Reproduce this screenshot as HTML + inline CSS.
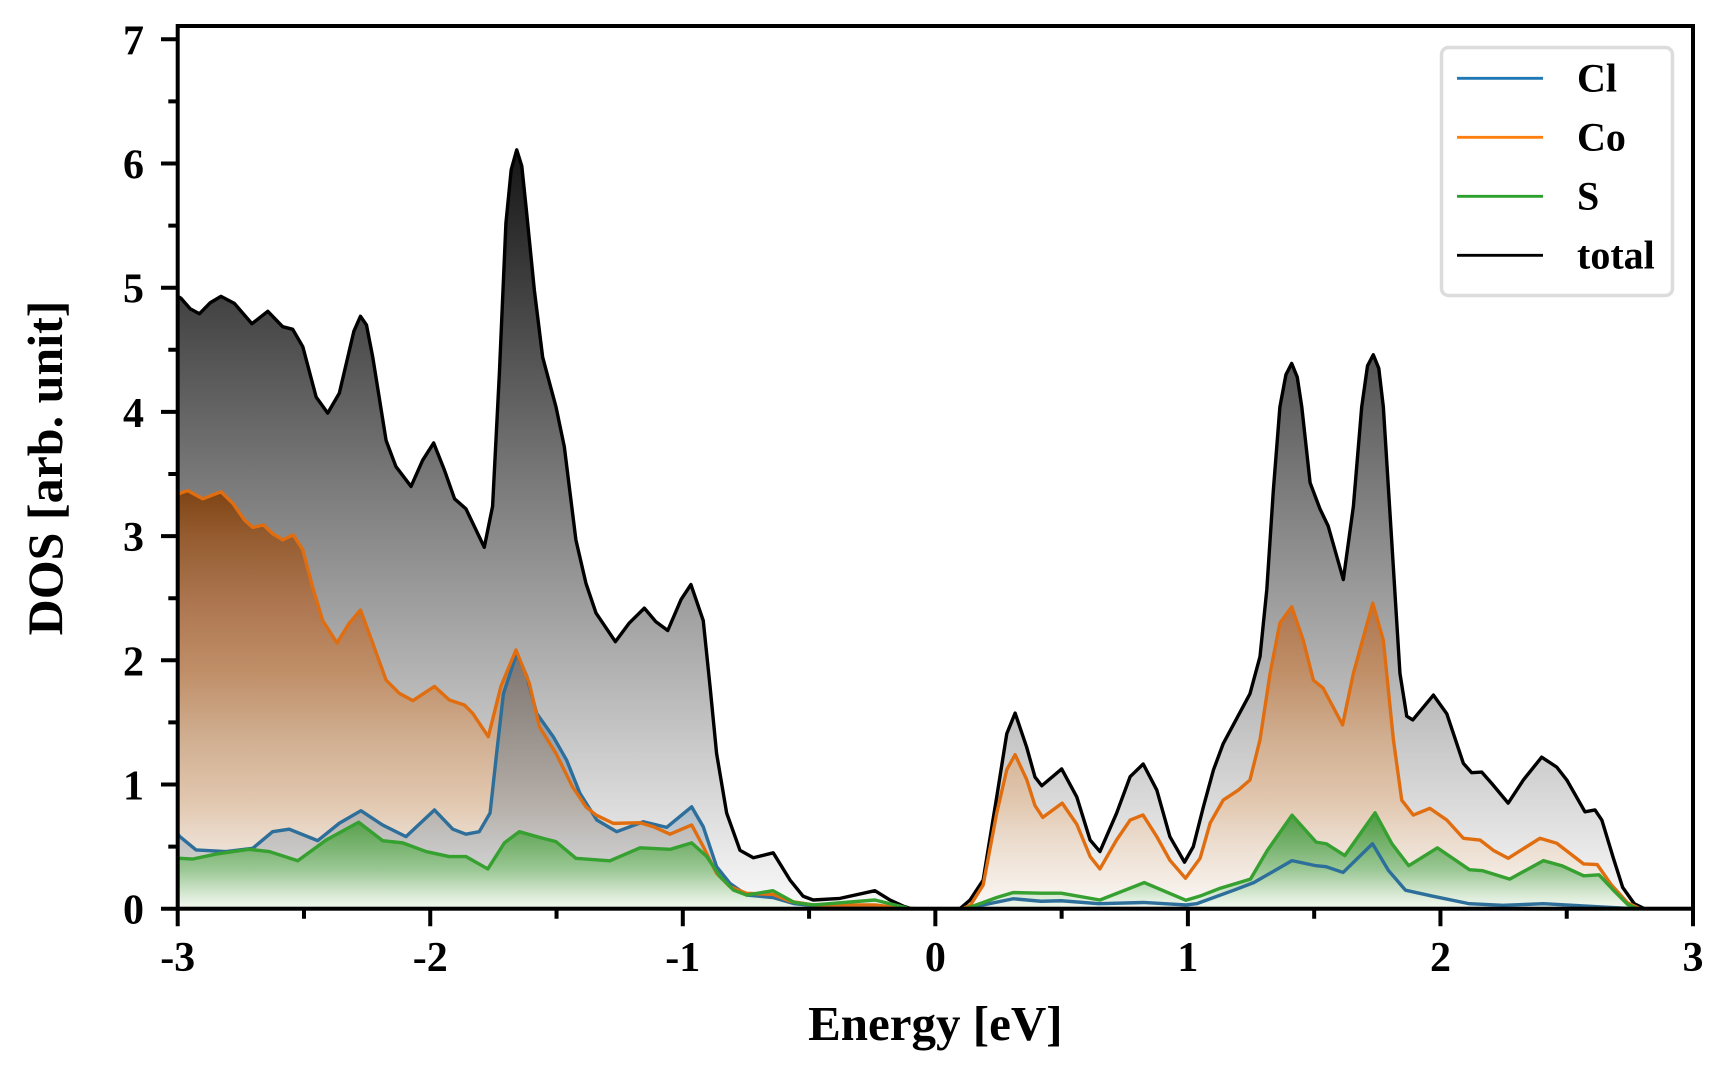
<!DOCTYPE html>
<html>
<head>
<meta charset="utf-8">
<style>
html,body{margin:0;padding:0;background:#ffffff;}
svg{display:block;}
</style>
</head>
<body>
<svg width="1728" height="1080" viewBox="0 0 1728 1080" xmlns="http://www.w3.org/2000/svg" font-family="'Liberation Serif', 'Times New Roman', serif" font-weight="bold">
<defs>
  <clipPath id="ax"><rect x="177.7" y="26" width="1515.3" height="882.7"/></clipPath>
  <linearGradient id="gT" gradientUnits="userSpaceOnUse" x1="0" y1="6.12" x2="0" y2="0">
    <stop offset="0" stop-color="#151515"/>
    <stop offset="1" stop-color="#fafafa"/>
  </linearGradient>
  <linearGradient id="gCo" gradientUnits="userSpaceOnUse" x1="0" y1="3.36" x2="0" y2="0">
    <stop offset="0" stop-color="#7e4414"/>
    <stop offset="0.107" stop-color="#955c30"/>
    <stop offset="0.268" stop-color="#ad7650"/>
    <stop offset="0.429" stop-color="#bf8e67"/>
    <stop offset="0.589" stop-color="#d0ae90"/>
    <stop offset="0.747" stop-color="#e2c8b0"/>
    <stop offset="0.827" stop-color="#eadacb"/>
    <stop offset="1" stop-color="#fbf8f5"/>
  </linearGradient>
  <linearGradient id="gCl" gradientUnits="userSpaceOnUse" x1="0" y1="2.06" x2="0" y2="0">
    <stop offset="0" stop-color="#235a8c" stop-opacity="0.40"/>
    <stop offset="1" stop-color="#235a8c" stop-opacity="0.12"/>
  </linearGradient>
  <linearGradient id="gS" gradientUnits="userSpaceOnUse" x1="0" y1="0.78" x2="0" y2="0">
    <stop offset="0" stop-color="#4d9844"/>
    <stop offset="0.192" stop-color="#64a85a"/>
    <stop offset="0.423" stop-color="#82b97a"/>
    <stop offset="0.603" stop-color="#9cc896"/>
    <stop offset="0.872" stop-color="#dcebd8"/>
    <stop offset="1" stop-color="#f4f9f3"/>
  </linearGradient>
</defs>

<g clip-path="url(#ax)">
<g transform="matrix(251.7 0 0 -124.2 932.8 908.7)">
  <path fill="url(#gT)" stroke="none" d="M-3,0 L-3,4.93 -2.987,4.915 -2.95,4.83 -2.914,4.79 -2.87,4.88 -2.828,4.93 -2.775,4.874 -2.705,4.71 -2.642,4.81 -2.583,4.686 -2.543,4.665 -2.503,4.525 -2.45,4.12 -2.404,3.99 -2.358,4.15 -2.3,4.65 -2.274,4.77 -2.25,4.7 -2.225,4.44 -2.172,3.77 -2.133,3.56 -2.073,3.4 -2.027,3.61 -1.983,3.75 -1.94,3.53 -1.9,3.3 -1.855,3.22 -1.822,3.08 -1.782,2.91 -1.749,3.24 -1.722,4.31 -1.696,5.52 -1.675,5.95 -1.653,6.11 -1.633,5.98 -1.616,5.65 -1.583,4.98 -1.55,4.44 -1.497,4.04 -1.464,3.72 -1.418,2.97 -1.378,2.62 -1.338,2.38 -1.261,2.15 -1.206,2.3 -1.146,2.42 -1.1,2.31 -1.053,2.24 -1,2.49 -0.961,2.61 -0.912,2.32 -0.885,1.79 -0.859,1.25 -0.819,0.77 -0.766,0.47 -0.713,0.41 -0.634,0.45 -0.567,0.23 -0.515,0.1 -0.475,0.07 -0.369,0.083 -0.23,0.145 -0.17,0.07 -0.117,0.02 -0.084,0 0.108,0 0.148,0.07 0.2,0.23 0.254,0.9 0.294,1.41 0.327,1.575 0.373,1.3 0.406,1.06 0.433,0.99 0.512,1.125 0.572,0.9 0.625,0.553 0.664,0.46 0.73,0.768 0.784,1.063 0.836,1.165 0.89,0.955 0.942,0.58 1,0.375 1.035,0.5 1.075,0.82 1.115,1.117 1.154,1.33 1.207,1.53 1.26,1.73 1.3,2.03 1.327,2.57 1.353,3.37 1.379,4.04 1.403,4.3 1.426,4.39 1.448,4.28 1.466,4.04 1.499,3.43 1.538,3.22 1.571,3.08 1.631,2.65 1.671,3.24 1.704,4.04 1.727,4.37 1.75,4.46 1.772,4.35 1.79,4.04 1.823,2.97 1.856,1.895 1.883,1.55 1.907,1.52 1.989,1.72 2.042,1.57 2.108,1.17 2.141,1.095 2.181,1.1 2.22,1.01 2.286,0.85 2.346,1.036 2.419,1.22 2.479,1.14 2.519,1.036 2.591,0.78 2.631,0.795 2.658,0.714 2.704,0.406 2.741,0.171 2.787,0.04 2.827,0 3.05,0 Z"/>
  <path fill="url(#gCo)" stroke="none" d="M-3,0 L-3,3.33 -2.991,3.345 -2.96,3.366 -2.9,3.3 -2.828,3.357 -2.781,3.264 -2.735,3.13 -2.702,3.07 -2.66,3.09 -2.623,3.02 -2.583,2.97 -2.541,3.01 -2.503,2.89 -2.464,2.59 -2.424,2.32 -2.367,2.14 -2.318,2.3 -2.274,2.405 -2.225,2.137 -2.172,1.84 -2.12,1.735 -2.066,1.675 -1.98,1.79 -1.921,1.68 -1.861,1.64 -1.828,1.573 -1.766,1.385 -1.716,1.79 -1.656,2.083 -1.603,1.815 -1.563,1.465 -1.497,1.25 -1.431,0.98 -1.378,0.82 -1.338,0.754 -1.269,0.687 -1.163,0.692 -1.11,0.66 -1.044,0.6 -0.958,0.674 -0.912,0.5 -0.859,0.285 -0.806,0.177 -0.74,0.124 -0.634,0.115 -0.567,0.06 -0.475,0.03 -0.23,0.03 -0.1,0 0.12,0 0.15,0.03 0.2,0.19 0.254,0.77 0.294,1.12 0.327,1.24 0.373,1.04 0.406,0.83 0.437,0.735 0.514,0.85 0.572,0.68 0.625,0.42 0.664,0.32 0.73,0.553 0.784,0.714 0.835,0.755 0.89,0.58 0.942,0.39 1.004,0.245 1.062,0.406 1.102,0.69 1.154,0.875 1.214,0.955 1.26,1.036 1.3,1.36 1.34,1.895 1.379,2.3 1.426,2.43 1.472,2.16 1.512,1.84 1.551,1.775 1.628,1.48 1.671,1.895 1.748,2.46 1.79,2.16 1.83,1.36 1.863,0.875 1.909,0.754 1.975,0.808 2.042,0.714 2.108,0.567 2.174,0.553 2.227,0.47 2.286,0.406 2.412,0.567 2.479,0.527 2.586,0.36 2.64,0.355 2.694,0.197 2.76,0.048 2.81,0 3.05,0 Z"/>
  <path fill="url(#gCl)" stroke="none" d="M-3,0 L-3,0.6 -2.991,0.58 -2.927,0.473 -2.808,0.46 -2.702,0.486 -2.623,0.62 -2.557,0.64 -2.444,0.548 -2.358,0.688 -2.272,0.789 -2.186,0.674 -2.093,0.58 -1.98,0.795 -1.907,0.64 -1.855,0.6 -1.802,0.62 -1.759,0.77 -1.733,1.25 -1.706,1.73 -1.653,2.056 -1.613,1.87 -1.574,1.573 -1.508,1.385 -1.455,1.197 -1.402,0.929 -1.335,0.714 -1.256,0.62 -1.15,0.7 -1.057,0.655 -0.958,0.82 -0.912,0.66 -0.859,0.338 -0.806,0.204 -0.74,0.11 -0.635,0.09 -0.55,0.04 -0.45,0.02 -0.25,0.015 -0.1,0 0.12,0 0.2,0.03 0.32,0.08 0.43,0.06 0.51,0.064 0.66,0.04 0.836,0.05 1.006,0.03 1.048,0.04 1.196,0.149 1.276,0.211 1.427,0.387 1.523,0.346 1.563,0.338 1.63,0.292 1.747,0.523 1.811,0.306 1.878,0.149 1.984,0.102 2.132,0.04 2.265,0.027 2.426,0.04 2.667,0.013 2.785,0 3.05,0 Z"/>
  <path fill="url(#gS)" stroke="none" d="M-3,0 L-3,0.405 -2.991,0.406 -2.94,0.4 -2.848,0.44 -2.716,0.478 -2.636,0.46 -2.523,0.386 -2.41,0.553 -2.281,0.696 -2.186,0.548 -2.106,0.53 -2.013,0.46 -1.921,0.42 -1.855,0.42 -1.768,0.32 -1.702,0.53 -1.643,0.62 -1.55,0.567 -1.497,0.54 -1.418,0.406 -1.378,0.4 -1.283,0.386 -1.163,0.49 -1.044,0.478 -0.958,0.53 -0.898,0.42 -0.845,0.258 -0.792,0.15 -0.74,0.11 -0.635,0.145 -0.55,0.05 -0.475,0.03 -0.23,0.07 -0.1,0.005 -0.07,0 0.13,0 0.2,0.05 0.254,0.09 0.32,0.13 0.43,0.125 0.51,0.125 0.664,0.07 0.84,0.21 1.006,0.068 1.062,0.102 1.142,0.165 1.262,0.238 1.329,0.469 1.427,0.753 1.523,0.536 1.563,0.523 1.637,0.428 1.757,0.772 1.824,0.523 1.891,0.346 2.005,0.49 2.132,0.314 2.185,0.306 2.292,0.238 2.426,0.387 2.499,0.346 2.586,0.265 2.647,0.273 2.707,0.143 2.76,0.035 2.8,0 3.05,0 Z"/>

  <g fill="none" stroke-width="3.4" stroke-linejoin="round" stroke-linecap="round">
  <path vector-effect="non-scaling-stroke" stroke="#000000" d="M-3,4.93 L-2.987,4.915 -2.95,4.83 -2.914,4.79 -2.87,4.88 -2.828,4.93 -2.775,4.874 -2.705,4.71 -2.642,4.81 -2.583,4.686 -2.543,4.665 -2.503,4.525 -2.45,4.12 -2.404,3.99 -2.358,4.15 -2.3,4.65 -2.274,4.77 -2.25,4.7 -2.225,4.44 -2.172,3.77 -2.133,3.56 -2.073,3.4 -2.027,3.61 -1.983,3.75 -1.94,3.53 -1.9,3.3 -1.855,3.22 -1.822,3.08 -1.782,2.91 -1.749,3.24 -1.722,4.31 -1.696,5.52 -1.675,5.95 -1.653,6.11 -1.633,5.98 -1.616,5.65 -1.583,4.98 -1.55,4.44 -1.497,4.04 -1.464,3.72 -1.418,2.97 -1.378,2.62 -1.338,2.38 -1.261,2.15 -1.206,2.3 -1.146,2.42 -1.1,2.31 -1.053,2.24 -1,2.49 -0.961,2.61 -0.912,2.32 -0.885,1.79 -0.859,1.25 -0.819,0.77 -0.766,0.47 -0.713,0.41 -0.634,0.45 -0.567,0.23 -0.515,0.1 -0.475,0.07 -0.369,0.083 -0.23,0.145 -0.17,0.07 -0.117,0.02 -0.084,0 0.108,0 0.148,0.07 0.2,0.23 0.254,0.9 0.294,1.41 0.327,1.575 0.373,1.3 0.406,1.06 0.433,0.99 0.512,1.125 0.572,0.9 0.625,0.553 0.664,0.46 0.73,0.768 0.784,1.063 0.836,1.165 0.89,0.955 0.942,0.58 1,0.375 1.035,0.5 1.075,0.82 1.115,1.117 1.154,1.33 1.207,1.53 1.26,1.73 1.3,2.03 1.327,2.57 1.353,3.37 1.379,4.04 1.403,4.3 1.426,4.39 1.448,4.28 1.466,4.04 1.499,3.43 1.538,3.22 1.571,3.08 1.631,2.65 1.671,3.24 1.704,4.04 1.727,4.37 1.75,4.46 1.772,4.35 1.79,4.04 1.823,2.97 1.856,1.895 1.883,1.55 1.907,1.52 1.989,1.72 2.042,1.57 2.108,1.17 2.141,1.095 2.181,1.1 2.22,1.01 2.286,0.85 2.346,1.036 2.419,1.22 2.479,1.14 2.519,1.036 2.591,0.78 2.631,0.795 2.658,0.714 2.704,0.406 2.741,0.171 2.787,0.04 2.827,0 3.05,0"/>
  <path vector-effect="non-scaling-stroke" stroke="#2d6f9a" d="M-3,0.6 L-2.991,0.58 -2.927,0.473 -2.808,0.46 -2.702,0.486 -2.623,0.62 -2.557,0.64 -2.444,0.548 -2.358,0.688 -2.272,0.789 -2.186,0.674 -2.093,0.58 -1.98,0.795 -1.907,0.64 -1.855,0.6 -1.802,0.62 -1.759,0.77 -1.733,1.25 -1.706,1.73 -1.653,2.056 -1.613,1.87 -1.574,1.573 -1.508,1.385 -1.455,1.197 -1.402,0.929 -1.335,0.714 -1.256,0.62 -1.15,0.7 -1.057,0.655 -0.958,0.82 -0.912,0.66 -0.859,0.338 -0.806,0.204 -0.74,0.11 -0.635,0.09 -0.55,0.04 -0.45,0.02 -0.25,0.015 -0.1,0 0.12,0 0.2,0.03 0.32,0.08 0.43,0.06 0.51,0.064 0.66,0.04 0.836,0.05 1.006,0.03 1.048,0.04 1.196,0.149 1.276,0.211 1.427,0.387 1.523,0.346 1.563,0.338 1.63,0.292 1.747,0.523 1.811,0.306 1.878,0.149 1.984,0.102 2.132,0.04 2.265,0.027 2.426,0.04 2.667,0.013 2.785,0 3.05,0"/>
  <path vector-effect="non-scaling-stroke" stroke="#e06e10" d="M-3,3.33 L-2.991,3.345 -2.96,3.366 -2.9,3.3 -2.828,3.357 -2.781,3.264 -2.735,3.13 -2.702,3.07 -2.66,3.09 -2.623,3.02 -2.583,2.97 -2.541,3.01 -2.503,2.89 -2.464,2.59 -2.424,2.32 -2.367,2.14 -2.318,2.3 -2.274,2.405 -2.225,2.137 -2.172,1.84 -2.12,1.735 -2.066,1.675 -1.98,1.79 -1.921,1.68 -1.861,1.64 -1.828,1.573 -1.766,1.385 -1.716,1.79 -1.656,2.083 -1.603,1.815 -1.563,1.465 -1.497,1.25 -1.431,0.98 -1.378,0.82 -1.338,0.754 -1.269,0.687 -1.163,0.692 -1.11,0.66 -1.044,0.6 -0.958,0.674 -0.912,0.5 -0.859,0.285 -0.806,0.177 -0.74,0.124 -0.634,0.115 -0.567,0.06 -0.475,0.03 -0.23,0.03 -0.1,0 0.12,0 0.15,0.03 0.2,0.19 0.254,0.77 0.294,1.12 0.327,1.24 0.373,1.04 0.406,0.83 0.437,0.735 0.514,0.85 0.572,0.68 0.625,0.42 0.664,0.32 0.73,0.553 0.784,0.714 0.835,0.755 0.89,0.58 0.942,0.39 1.004,0.245 1.062,0.406 1.102,0.69 1.154,0.875 1.214,0.955 1.26,1.036 1.3,1.36 1.34,1.895 1.379,2.3 1.426,2.43 1.472,2.16 1.512,1.84 1.551,1.775 1.628,1.48 1.671,1.895 1.748,2.46 1.79,2.16 1.83,1.36 1.863,0.875 1.909,0.754 1.975,0.808 2.042,0.714 2.108,0.567 2.174,0.553 2.227,0.47 2.286,0.406 2.412,0.567 2.479,0.527 2.586,0.36 2.64,0.355 2.694,0.197 2.76,0.048 2.81,0 3.05,0"/>
  <path vector-effect="non-scaling-stroke" stroke="#36a030" d="M-3,0.405 L-2.991,0.406 -2.94,0.4 -2.848,0.44 -2.716,0.478 -2.636,0.46 -2.523,0.386 -2.41,0.553 -2.281,0.696 -2.186,0.548 -2.106,0.53 -2.013,0.46 -1.921,0.42 -1.855,0.42 -1.768,0.32 -1.702,0.53 -1.643,0.62 -1.55,0.567 -1.497,0.54 -1.418,0.406 -1.378,0.4 -1.283,0.386 -1.163,0.49 -1.044,0.478 -0.958,0.53 -0.898,0.42 -0.845,0.258 -0.792,0.15 -0.74,0.11 -0.635,0.145 -0.55,0.05 -0.475,0.03 -0.23,0.07 -0.1,0.005 -0.07,0 0.13,0 0.2,0.05 0.254,0.09 0.32,0.13 0.43,0.125 0.51,0.125 0.664,0.07 0.84,0.21 1.006,0.068 1.062,0.102 1.142,0.165 1.262,0.238 1.329,0.469 1.427,0.753 1.523,0.536 1.563,0.523 1.637,0.428 1.757,0.772 1.824,0.523 1.891,0.346 2.005,0.49 2.132,0.314 2.185,0.306 2.292,0.238 2.426,0.387 2.499,0.346 2.586,0.265 2.647,0.273 2.707,0.143 2.76,0.035 2.8,0 3.05,0"/>
  </g>
</g>
</g>

<rect x="177.7" y="26" width="1515.3" height="882.7" fill="none" stroke="#000" stroke-width="4"/>

<path fill="none" stroke="#000" stroke-width="4" d="M161 908.7H177.7 M161 784.5H177.7 M161 660.3H177.7 M161 536.1H177.7 M161 411.9H177.7 M161 287.7H177.7 M161 163.5H177.7 M161 39.3H177.7 M168.3 846.6H177.7 M168.3 722.4H177.7 M168.3 598.2H177.7 M168.3 474H177.7 M168.3 349.8H177.7 M168.3 225.6H177.7 M168.3 101.4H177.7"/>
<path fill="none" stroke="#000" stroke-width="4" d="M177.7 908.7V926.2 M430.25 908.7V926.2 M682.8 908.7V926.2 M935.35 908.7V926.2 M1187.9 908.7V926.2 M1440.45 908.7V926.2 M1693 908.7V926.2 M303.98 908.7V918.7 M556.53 908.7V918.7 M809.08 908.7V918.7 M1061.63 908.7V918.7 M1314.18 908.7V918.7 M1566.73 908.7V918.7"/>

<g font-size="42" text-anchor="end" fill="#000">
  <text x="144" y="923.7">0</text>
  <text x="144" y="799.5">1</text>
  <text x="144" y="675.3">2</text>
  <text x="144" y="551.1">3</text>
  <text x="144" y="426.9">4</text>
  <text x="144" y="302.7">5</text>
  <text x="144" y="178.5">6</text>
  <text x="144" y="54.3">7</text>
</g>
<g font-size="42" text-anchor="middle" fill="#000">
  <text x="177.7" y="971">-3</text>
  <text x="430.25" y="971">-2</text>
  <text x="682.8" y="971">-1</text>
  <text x="935.35" y="971">0</text>
  <text x="1187.9" y="971">1</text>
  <text x="1440.45" y="971">2</text>
  <text x="1693" y="971">3</text>
</g>

<text x="935.35" y="1040" font-size="49" text-anchor="middle" fill="#000">Energy [eV]</text>
<text transform="translate(62,468) rotate(-90)" x="0" y="0" font-size="50" text-anchor="middle" fill="#000">DOS [arb. unit]</text>

<rect x="1441.5" y="47.5" width="231" height="248" rx="7" ry="7" fill="#ffffff" stroke="#dcdcdc" stroke-width="3.5"/>
<g stroke-width="2.8">
  <line x1="1457" y1="78.3" x2="1543" y2="78.3" stroke="#1f77b4"/>
  <line x1="1457" y1="137.3" x2="1543" y2="137.3" stroke="#ff7f0e"/>
  <line x1="1457" y1="196.3" x2="1543" y2="196.3" stroke="#2ca02c"/>
  <line x1="1457" y1="255.3" x2="1543" y2="255.3" stroke="#000000"/>
</g>
<g font-size="40" fill="#000">
  <text x="1577" y="91.7">Cl</text>
  <text x="1577" y="150.7">Co</text>
  <text x="1577" y="209.7">S</text>
  <text x="1577" y="268.7">total</text>
</g>
</svg>
</body>
</html>
